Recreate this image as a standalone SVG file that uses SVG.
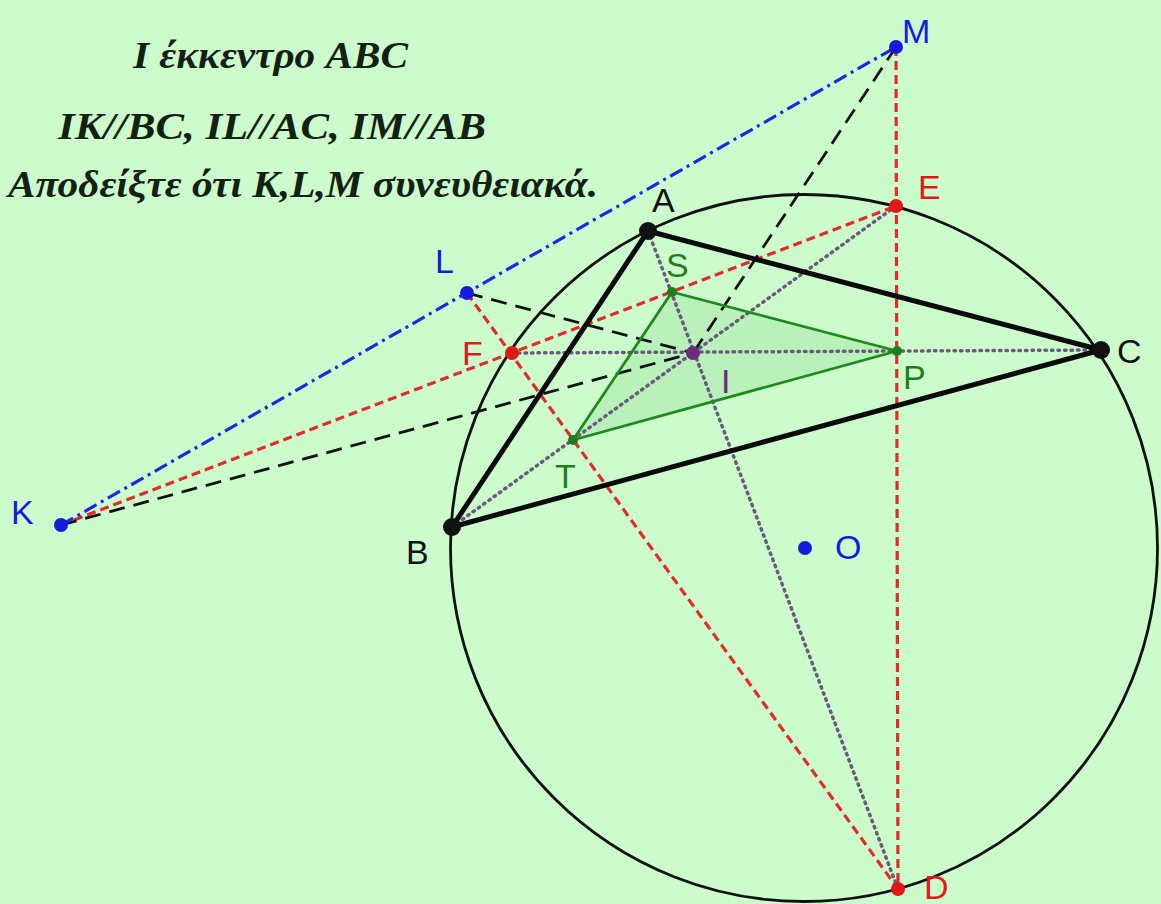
<svg xmlns="http://www.w3.org/2000/svg" width="1161" height="904" viewBox="0 0 1161 904">
<style>
.bg{fill:#ccfbcc}
.title{font-family:"Liberation Serif","Times New Roman",serif;font-weight:bold;font-style:italic;font-size:37px;fill:#142014}
.lbl{font-family:"Liberation Sans",Arial,sans-serif;font-size:34px}
.blk{fill:#111}
.blue{fill:#1a1adc}
.red{fill:#e01818}
.grn{fill:#1e7e1e}
.pur{fill:#6e2a7e}
.circ{fill:none;stroke:#111;stroke-width:2.8}
.tri{stroke:#0a0a0a;stroke-width:5;stroke-linecap:round}
.dot{stroke:#6a5a7c;stroke-width:3.5;stroke-dasharray:1.5 5;stroke-linecap:round;fill:none}
.rdash{stroke:#e52a2a;stroke-width:3.2;stroke-dasharray:9 5;fill:none}
.bdash{stroke:#111;stroke-width:2.8;stroke-dasharray:16 9;fill:none}
.dashdot{stroke:#1a2ae0;stroke-width:3.2;stroke-dasharray:14 5 3 5;fill:none}
.gline{stroke:#1e8a1e;stroke-width:2.8;fill:none}
</style>
<rect class="bg" x="0" y="0" width="1161" height="904"/>
<g id="title">
<text class="title" x="133" y="68" textLength="275" lengthAdjust="spacingAndGlyphs">I έκκεντρο ABC</text>
<text class="title" x="58" y="139" textLength="428" lengthAdjust="spacingAndGlyphs">IK//BC, IL//AC, IM//AB</text>
<text class="title" x="8" y="197" textLength="590" lengthAdjust="spacingAndGlyphs">Αποδείξτε ότι K,L,M συνευθειακά.</text>
</g>
<g id="fill-SPT">
<polygon points="672,292 897,351 573,440" fill="#2aa02a" fill-opacity="0.11"/>
</g>
<g id="circle">
<circle class="circ" cx="804" cy="548" r="353.5"/>
</g>
<g id="connectors">
<line class="dot" x1="512" y1="353" x2="1101" y2="350"/>
<line class="dot" x1="648" y1="231" x2="898" y2="889"/>
<line class="dot" x1="452" y1="527" x2="896" y2="206"/>
<line class="rdash" x1="61" y1="525" x2="896" y2="206"/>
<line class="rdash" x1="467" y1="293" x2="898" y2="889"/>
<line class="rdash" x1="896" y1="47" x2="898" y2="889"/>
<line class="bdash" x1="61" y1="525" x2="693" y2="353"/>
<line class="bdash" x1="467" y1="293" x2="693" y2="353"/>
<line class="bdash" x1="896" y1="47" x2="693" y2="353"/>
<line class="dashdot" x1="61" y1="525" x2="896" y2="47"/>
<line class="gline" x1="672" y1="292" x2="897" y2="351"/>
<line class="gline" x1="897" y1="351" x2="573" y2="440"/>
<line class="gline" x1="573" y1="440" x2="672" y2="292"/>
<line class="tri" x1="648" y1="231" x2="452" y2="527"/>
<line class="tri" x1="452" y1="527" x2="1101" y2="350"/>
<line class="tri" x1="1101" y1="350" x2="648" y2="231"/>
</g>
<g id="node-A"><circle cx="648" cy="231" r="9" class="blk"/><text class="lbl blk" x="652" y="212">A</text></g>
<g id="node-B"><circle cx="452" cy="527" r="9" class="blk"/><text class="lbl blk" x="406" y="564">B</text></g>
<g id="node-C"><circle cx="1101" cy="350" r="9" class="blk"/><text class="lbl blk" x="1117" y="363">C</text></g>
<g id="node-I"><circle cx="693" cy="353" r="7" class="pur"/><text class="lbl pur" x="721" y="393">I</text></g>
<g id="node-K"><circle cx="61" cy="525" r="7" class="blue"/><text class="lbl blue" x="11" y="524">K</text></g>
<g id="node-L"><circle cx="467" cy="293" r="7" class="blue"/><text class="lbl blue" x="435" y="273">L</text></g>
<g id="node-M"><circle cx="896" cy="47" r="7" class="blue"/><text class="lbl blue" x="902" y="43">M</text></g>
<g id="node-O"><circle cx="805" cy="548" r="7" class="blue"/><text class="lbl blue" x="835" y="559">O</text></g>
<g id="node-E"><circle cx="896" cy="206" r="7" class="red"/><text class="lbl red" x="918" y="199">E</text></g>
<g id="node-F"><circle cx="512" cy="353" r="7" class="red"/><text class="lbl red" x="462" y="365">F</text></g>
<g id="node-D"><circle cx="898" cy="889" r="7" class="red"/><text class="lbl red" x="924" y="899">D</text></g>
<g id="node-S"><circle cx="672" cy="292" r="5" class="grn"/><text class="lbl grn" x="666" y="277">S</text></g>
<g id="node-T"><circle cx="573" cy="440" r="5" class="grn"/><text class="lbl grn" x="555" y="488">T</text></g>
<g id="node-P"><circle cx="897" cy="351" r="5" class="grn"/><text class="lbl grn" x="903" y="389">P</text></g>
</svg>
